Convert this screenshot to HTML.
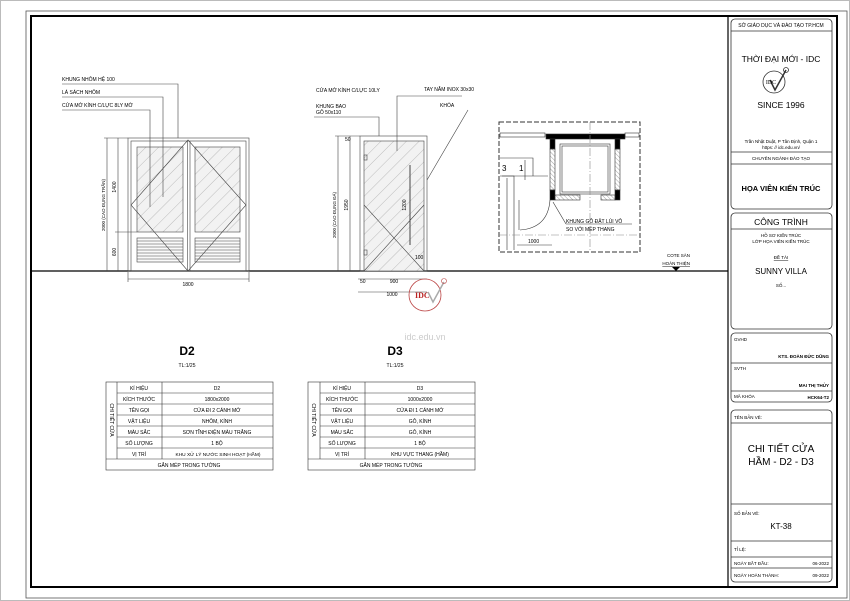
<!DOCTYPE html>
<html><head><meta charset="utf-8"><style>
html,body{margin:0;padding:0;background:#fff;}
svg{display:block;font-family:"Liberation Sans",sans-serif;}
</style></head><body>
<svg width="850" height="601" viewBox="0 0 850 601" xmlns="http://www.w3.org/2000/svg">
<defs>
<pattern id="h" width="9" height="9" patternUnits="userSpaceOnUse" patternTransform="rotate(-45)">
<rect width="9" height="9" fill="#f2f2f2"/><line x1="0" y1="0" x2="9" y2="0" stroke="#999" stroke-width="0.6"/></pattern>
<pattern id="h2" width="3" height="3" patternUnits="userSpaceOnUse" patternTransform="rotate(45)">
<line x1="0" y1="0" x2="3" y2="0" stroke="#666" stroke-width="0.6"/></pattern>
</defs>
<rect x="0.5" y="0.5" width="849" height="600" fill="#fff" stroke="#bbb"/>
<rect x="26" y="11" width="821" height="587" fill="none" stroke="#555" stroke-width="0.8"/>
<rect x="31" y="16" width="806" height="571" fill="none" stroke="#000" stroke-width="2"/>

<!-- title block -->
<g fill="none" stroke="#333" stroke-width="0.8">
<line x1="728" y1="16" x2="728" y2="587" stroke="#000" stroke-width="1.2"/>
<rect x="731" y="19" width="101" height="190" rx="4"/>
<line x1="731" y1="31" x2="832" y2="31"/>
<line x1="731" y1="152" x2="832" y2="152"/>
<line x1="731" y1="164" x2="832" y2="164"/>
<rect x="731" y="213" width="101" height="116" rx="4"/>
<line x1="731" y1="229" x2="832" y2="229"/>
<rect x="731" y="333" width="101" height="69" rx="4"/>
<line x1="731" y1="363" x2="832" y2="363"/>
<line x1="731" y1="391" x2="832" y2="391"/>
<rect x="731" y="410" width="101" height="172" rx="4"/>
<line x1="731" y1="423" x2="832" y2="423"/>
<line x1="731" y1="504" x2="832" y2="504"/>
<line x1="731" y1="541" x2="832" y2="541"/>
<line x1="731" y1="557" x2="832" y2="557"/>
<line x1="731" y1="568" x2="832" y2="568"/>
<circle cx="774" cy="82" r="11"/>
<path d="M770 80 L775 90 L786 70" stroke-width="1.5"/>
<circle cx="786" cy="70" r="2.5"/>
</g>
<g fill="#000" font-size="5" text-anchor="middle">
<text x="781" y="27">SỞ GIÁO DỤC VÀ ĐÀO TẠO TP.HCM</text>
<text x="781" y="62" font-size="8.5">THỜI ĐẠI MỚI - IDC</text>
<text x="771" y="84" font-size="6" font-family="Liberation Serif">IDC</text>
<text x="781" y="108" font-size="8.5">SINCE 1996</text>
<text x="781" y="143" font-size="4.5">Trần Nhật Duật, P Tân Định, Quận 1</text>
<text x="781" y="149" font-size="4.5">https: // idc.edu.vn/</text>
<text x="781" y="160" font-size="4.5">CHUYÊN NGÀNH ĐÀO TẠO</text>
<text x="781" y="191" font-size="7.5" font-weight="bold">HỌA VIÊN KIẾN TRÚC</text>
<text x="781" y="225" font-size="8.5">CÔNG TRÌNH</text>
<text x="781" y="237" font-size="4.5">HỒ SƠ KIẾN TRÚC</text>
<text x="781" y="243" font-size="4.5">LỚP HỌA VIÊN KIẾN TRÚC</text>
<text x="781" y="259" font-size="4.5" text-decoration="underline">ĐỀ TÀI</text>
<text x="781" y="274" font-size="8">SUNNY VILLA</text>
<text x="781" y="287" font-size="4.5">SỐ...</text>
<text x="734" y="341" font-size="4.5" text-anchor="start">GVHD</text>
<text x="829" y="358" font-size="4.5" text-anchor="end" font-weight="bold">KTS. ĐOÀN ĐỨC DŨNG</text>
<text x="734" y="370" font-size="4.5" text-anchor="start">SVTH</text>
<text x="829" y="387" font-size="4.5" text-anchor="end" font-weight="bold">MAI THỊ THỦY</text>
<text x="734" y="398" font-size="4.5" text-anchor="start">MÃ KHÓA</text>
<text x="829" y="399" font-size="4.5" text-anchor="end" font-weight="bold">HCK64-T2</text>
<text x="734" y="419" font-size="4.5" text-anchor="start">TÊN BẢN VẼ:</text>
<text x="781" y="452" font-size="10" font-family="Liberation Sans Narrow,Liberation Sans,sans-serif">CHI TIẾT CỬA</text>
<text x="781" y="465" font-size="10" font-family="Liberation Sans Narrow,Liberation Sans,sans-serif">HẦM - D2 - D3</text>
<text x="734" y="515" font-size="4.5" text-anchor="start">SỐ BẢN VẼ:</text>
<text x="781" y="529" font-size="8">KT-38</text>
<text x="734" y="551" font-size="4.5" text-anchor="start">TỈ LỆ:</text>
<text x="734" y="565" font-size="4.5" text-anchor="start">NGÀY BẮT ĐẦU:</text>
<text x="829" y="565" font-size="4.5" text-anchor="end">06-2022</text>
<text x="734" y="577" font-size="4.5" text-anchor="start">NGÀY HOÀN THÀNH:</text>
<text x="829" y="577" font-size="4.5" text-anchor="end">09-2022</text>
</g>

<!-- ground line -->
<line x1="31" y1="271" x2="728" y2="271" stroke="#000" stroke-width="1.3"/>
<text x="690" y="257" font-size="4.5" text-anchor="end">COTE SÀN</text>
<text x="690" y="265" font-size="4.5" text-anchor="end" text-decoration="underline">HOÀN THIỆN</text>
<path d="M672 267 L680 267 L676 271 Z" fill="#000"/>

<!-- D2 door -->
<g fill="none" stroke="#444" stroke-width="0.6">
<rect x="128" y="138" width="121" height="133"/>
<rect x="131" y="141" width="115" height="130"/>
<line x1="187.5" y1="141" x2="187.5" y2="271"/>
<line x1="190" y1="141" x2="190" y2="271"/>
<rect x="137" y="147" width="46" height="85" fill="url(#h)"/>
<rect x="195" y="147" width="45" height="85" fill="url(#h)"/>
<rect x="137" y="238" width="46" height="24" fill="#fafafa"/>
<rect x="195" y="238" width="45" height="24" fill="#fafafa"/>
<path d="M137 241H183M137 244H183M137 247H183M137 250H183M137 253H183M137 256H183M137 259H183M195 241H240M195 244H240M195 247H240M195 250H240M195 253H240M195 256H240M195 259H240"/>
<path d="M188 140 L131 205 L188 271 L246 205 Z"/>
<line x1="107" y1="138" x2="107" y2="271"/>
<line x1="118" y1="138" x2="118" y2="271"/>
<line x1="104" y1="138" x2="128" y2="138"/>
<line x1="115" y1="232" x2="137" y2="232"/>
<line x1="128" y1="279" x2="249" y2="279"/>
<line x1="128" y1="272" x2="128" y2="282"/><line x1="249" y1="272" x2="249" y2="282"/>
<path d="M62 84H178V138M62 97H163V197M62 110H150V207"/>
</g>
<g font-size="5" fill="#000">
<text x="62" y="81">KHUNG NHÔM HỆ 100</text>
<text x="62" y="94">LÁ SÁCH NHÔM</text>
<text x="62" y="107">CỬA MỞ KÍNH C/LỰC 8LY MỜ</text>
<text x="188" y="286" text-anchor="middle">1800</text>
<text transform="translate(105,205) rotate(-90)" text-anchor="middle" font-size="4.5">2000 (CAO ĐỤNG TRẦN)</text>
<text transform="translate(116,187) rotate(-90)" text-anchor="middle">1400</text>
<text transform="translate(116,252) rotate(-90)" text-anchor="middle">600</text>
</g>

<!-- D3 door -->
<g fill="none" stroke="#444" stroke-width="0.6">
<rect x="360" y="136" width="67" height="135"/>
<rect x="364" y="141" width="60" height="130" fill="url(#h)"/>
<path d="M364 205 L424 271 M424 205 L364 271"/>
<line x1="410" y1="165" x2="410" y2="245" stroke-width="1"/>
<line x1="338" y1="136" x2="338" y2="271"/>
<line x1="350" y1="136" x2="350" y2="271"/>
<line x1="335" y1="136" x2="360" y2="136"/>
<line x1="358" y1="279" x2="427" y2="279"/>
<line x1="358" y1="292" x2="427" y2="292"/>
<path d="M314 117H379V136M397 151V96H462M427 180L468 110"/>
<rect x="364" y="155" width="3" height="5"/><rect x="364" y="250" width="3" height="5"/>
</g>
<g font-size="5" fill="#000">
<text x="316" y="92">CỬA MỞ KÍNH C/LỰC 10LY</text>
<text x="316" y="108">KHUNG BAO</text><text x="316" y="114">GỖ 50x110</text>
<text x="424" y="91">TAY NẮM INOX 30x30</text>
<text x="440" y="107">KHÓA</text>
<text transform="translate(336,215) rotate(-90)" text-anchor="middle" font-size="4.5">2000 (CAO ĐỤNG ĐÁ)</text>
<text transform="translate(348,205) rotate(-90)" text-anchor="middle">1950</text>
<text transform="translate(406,205) rotate(-90)" text-anchor="middle">1200</text>
<text x="394" y="283" text-anchor="middle">900</text>
<text x="392" y="296" text-anchor="middle">1000</text>
<text x="360" y="283">50</text><text x="345" y="141">50</text>
<text x="415" y="259">100</text>
</g>
<!-- IDC logo center -->
<g>
<circle cx="425" cy="295" r="16" fill="none" stroke="#b44" stroke-width="0.8"/>
<text x="415" y="298" font-size="8" font-weight="bold" fill="#b22" font-family="Liberation Serif">IDC</text>
<path d="M428 292 L433 302 L444 282" fill="none" stroke="#aaa" stroke-width="1.5"/>
<circle cx="444" cy="281" r="2.5" fill="none" stroke="#b44" stroke-width="0.6"/>
</g>
<text x="425" y="340" font-size="9" fill="#ccc" text-anchor="middle">idc.edu.vn</text>

<!-- elevator plan -->
<g fill="none" stroke="#333" stroke-width="0.6">
<rect x="499" y="122" width="141" height="130" stroke-dasharray="5,2" stroke-width="1"/>
<rect x="500" y="133" width="45" height="4"/><rect x="625" y="133" width="14" height="4"/>
<rect x="546" y="134" width="79" height="5" fill="#000"/>
<rect x="550" y="139" width="5" height="10" fill="#000"/><rect x="615" y="139" width="5" height="10" fill="#000"/>
<rect x="550" y="190" width="5" height="10" fill="#000"/><rect x="615" y="190" width="5" height="10" fill="#000"/>
<rect x="550" y="149" width="5" height="41" fill="url(#h2)"/><rect x="615" y="149" width="5" height="41" fill="url(#h2)"/>
<rect x="560" y="144" width="50" height="50"/><rect x="562" y="146" width="46" height="46"/>
<rect x="555" y="195" width="25" height="5" fill="url(#h2)"/><rect x="601" y="195" width="14" height="5" fill="url(#h2)"/>
<path d="M500 158H533V176M500 176H514V250M507 178V250M525 160V180"/>
<line x1="502" y1="176" x2="548" y2="176"/>
<path d="M520 230 Q548 228 550 200"/>
<line x1="519" y1="200" x2="519" y2="230"/>
<line x1="590" y1="122" x2="590" y2="252" stroke-dasharray="8,2,1,2" stroke="#888"/>
<line x1="499" y1="235" x2="640" y2="235" stroke-dasharray="8,2,1,2" stroke="#888"/>
<line x1="517" y1="245" x2="552" y2="245"/>
<line x1="553" y1="202" x2="566" y2="224"/>
<line x1="566" y1="224" x2="632" y2="224"/>
</g>
<g font-size="8" fill="#000"><text x="502" y="171">3</text><text x="519" y="171">1</text></g>
<g font-size="5" fill="#000">
<text x="566" y="223">KHUNG GỖ ĐẶT LÙI VÔ</text>
<text x="566" y="231">SO VỚI MÉP THANG</text>
<text x="528" y="243">1000</text>
</g>

<!-- Titles -->
<g text-anchor="middle">
<text x="187" y="355" font-size="12" font-weight="bold">D2</text>
<text x="187" y="367" font-size="5">TL:1/25</text>
<text x="395" y="355" font-size="12" font-weight="bold">D3</text>
<text x="395" y="367" font-size="5">TL:1/25</text>
</g>

<!-- tables -->
<g fill="none" stroke="#333" stroke-width="0.6">
<rect x="106" y="382" width="167" height="88"/>
<line x1="117" y1="382" x2="117" y2="459"/>
<line x1="162" y1="382" x2="162" y2="459"/>
<path d="M117 393H273M117 404H273M117 415H273M117 426H273M117 437H273M117 448H273M106 459H273"/>
<rect x="308" y="382" width="167" height="88"/>
<line x1="320" y1="382" x2="320" y2="459"/>
<line x1="365" y1="382" x2="365" y2="459"/>
<path d="M320 393H475M320 404H475M320 415H475M320 426H475M320 437H475M320 448H475M308 459H475"/>
</g>
<g font-size="5" fill="#000" text-anchor="middle">
<text transform="translate(110,420) rotate(90)">CHI TIẾT CỬA</text>
<text x="139" y="390">KÍ HIỆU</text><text x="217" y="390">D2</text>
<text x="139" y="401">KÍCH THƯỚC</text><text x="217" y="401">1800x2000</text>
<text x="139" y="412">TÊN GỌI</text><text x="217" y="412">CỬA ĐI 2 CÁNH MỞ</text>
<text x="139" y="423">VẬT LIỆU</text><text x="217" y="423">NHÔM, KÍNH</text>
<text x="139" y="434">MÀU SẮC</text><text x="217" y="434">SƠN TĨNH ĐIỆN MÀU TRẮNG</text>
<text x="139" y="445">SỐ LƯỢNG</text><text x="217" y="445">1 BỘ</text>
<text x="139" y="456">VỊ TRÍ</text><text x="218" y="456" font-size="4.8">KHU XỬ LÝ NƯỚC SINH HOẠT (HẦM)</text>
<text x="189" y="467">GẮN MÉP TRONG TƯỜNG</text>
<text transform="translate(312,420) rotate(90)">CHI TIẾT CỬA</text>
<text x="342" y="390">KÍ HIỆU</text><text x="420" y="390">D3</text>
<text x="342" y="401">KÍCH THƯỚC</text><text x="420" y="401">1000x2000</text>
<text x="342" y="412">TÊN GỌI</text><text x="420" y="412">CỬA ĐI 1 CÁNH MỞ</text>
<text x="342" y="423">VẬT LIỆU</text><text x="420" y="423">GỖ, KÍNH</text>
<text x="342" y="434">MÀU SẮC</text><text x="420" y="434">GỖ, KÍNH</text>
<text x="342" y="445">SỐ LƯỢNG</text><text x="420" y="445">1 BỘ</text>
<text x="342" y="456">VỊ TRÍ</text><text x="420" y="456">KHU VỰC THANG (HẦM)</text>
<text x="391" y="467">GẮN MÉP TRONG TƯỜNG</text>
</g>
</svg>
</body></html>
